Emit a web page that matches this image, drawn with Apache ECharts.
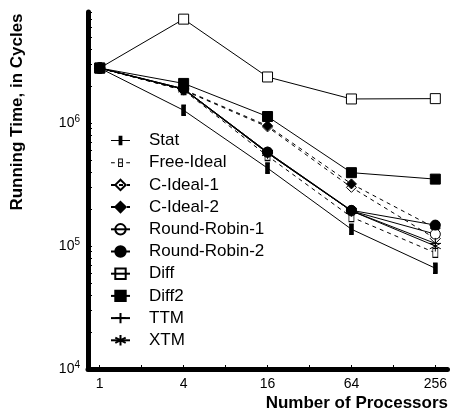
<!DOCTYPE html>
<html>
<head>
<meta charset="utf-8">
<script src="https://cdn.jsdelivr.net/npm/echarts@6/dist/echarts.min.js"></script>
<style>
  html, body { margin: 0; padding: 0; background: #fff; }
  #chart { width: 450px; height: 412px; }
</style>
</head>
<body>
<div id="chart"></div>
<script>
// Processor counts on the x axis and running times (cycles) per scheduler
const processors = [1, 4, 16, 64, 256];
const xLabelValues = [1, 4, 16, 64, 256];
const xTickValues = [1, 2, 4, 8, 16, 32, 64, 128, 256];
const yLabelValues = [1e4, 1e5, 1e6];

const stat        = [2.8e6, 1.27e6, 4.3e5, 1.37e5, 6.6e4];
const freeIdeal   = [2.8e6, 1.85e6, 5.4e5, 1.72e5, 8.8e4];
const cIdeal1     = [2.8e6, 1.85e6, 9.3e5, 3.0e5, 1.15e5];
const cIdeal2     = [2.8e6, 1.87e6, 9.5e5, 3.2e5, 1.4e5];
const roundRobin1 = [2.8e6, 1.9e6, 5.8e5, 1.93e5, 1.25e5];
const roundRobin2 = [2.8e6, 1.9e6, 5.8e5, 1.95e5, 1.48e5];
const diff        = [2.8e6, 7.0e6, 2.37e6, 1.57e6, 1.58e6];
const diff2       = [2.8e6, 2.1e6, 1.13e6, 3.95e5, 3.5e5];
const ttm         = [2.8e6, 1.88e6, 5.7e5, 1.93e5, 1.05e5];
const xtm         = [2.8e6, 1.88e6, 5.7e5, 1.93e5, 1.0e5];

const FONT = '"Liberation Sans", Arial, Helvetica, sans-serif';

// minor ticks at 1..9 x 10^n along the log y axis
const yTickValues = [];
for (let e = 4; e <= 6; e++) {
  for (let m = 1; m <= 9; m++) {
    const v = m * Math.pow(10, e);
    if (v <= 8e6) yTickValues.push(v);
  }
}

const PLUS = 'path://M5,0L5,10M0,5L10,5';
const STAR = 'path://M5,0L5,10M0.7,2.5L9.3,7.5M9.3,2.5L0.7,7.5';

// legend glyphs (20x13 box) for the bar-shaped markers: line + marker in one filled path
const BOX = 'M0,0L0,0Z M20,13L20,13Z ';
const STAT_ICON = 'path://' + BOX +
  'M0,6L20,6L20,7L0,7Z M8,1.5L12,1.5L12,11.5L8,11.5Z';
const FREE_ICON = 'path://' + BOX +
  'M0,6L4,6L4,7L0,7Z M16,6L20,6L20,7L16,7Z ' +
  'M7.5,2L12.5,2L12.5,11L7.5,11Z M8.5,3L8.5,10L11.5,10L11.5,3Z ' +
  'M8.5,6L11.5,6L11.5,7L8.5,7Z';

function pts(values) {
  return processors.map((p, i) => [p, values[i]]);
}

function makeSeries(name, values, opts) {
  return {
    name: name,
    type: 'line',
    data: pts(values),
    symbol: opts.symbol,
    symbolSize: opts.size,
    showSymbol: true,
    silent: true,
    lineStyle: { color: '#000', width: 1, type: opts.dashed ? [4, 4] : 'solid' },
    itemStyle: {
      color: opts.fill,
      borderColor: '#000',
      borderWidth: 1
    },
    emphasis: { disabled: true }
  };
}

const series = [
  makeSeries('Stat', stat, { symbol: 'rect', size: [4, 10], fill: '#000' }),
  makeSeries('Free-Ideal', freeIdeal, { symbol: 'rect', size: [5, 9], fill: '#fff', dashed: true }),
  makeSeries('C-Ideal-1', cIdeal1, { symbol: 'diamond', size: 10, fill: '#fff', dashed: true }),
  makeSeries('C-Ideal-2', cIdeal2, { symbol: 'diamond', size: 10, fill: '#000', dashed: true }),
  makeSeries('Round-Robin-1', roundRobin1, { symbol: 'circle', size: 10, fill: '#fff' }),
  makeSeries('Round-Robin-2', roundRobin2, { symbol: 'circle', size: 10, fill: '#000' }),
  makeSeries('Diff', diff, { symbol: 'rect', size: 10, fill: '#fff' }),
  makeSeries('Diff2', diff2, { symbol: 'rect', size: 10, fill: '#000' }),
  makeSeries('TTM', ttm, { symbol: PLUS, size: 11, fill: 'none' }),
  makeSeries('XTM', xtm, { symbol: STAR, size: 11, fill: 'none' })
];

const hollow = ['C-Ideal-1', 'Round-Robin-1', 'Diff'];
const customIcons = { 'Stat': STAT_ICON, 'Free-Ideal': FREE_ICON };

function legendItem(name) {
  if (customIcons[name]) {
    return { name: name, icon: customIcons[name], itemStyle: { color: '#000', borderWidth: 0 } };
  }
  if (hollow.indexOf(name) >= 0) {
    return { name: name, itemStyle: { color: 'rgba(0,0,0,0)' } };
  }
  return { name: name };
}

const chart = echarts.init(document.getElementById('chart'), null, { renderer: 'canvas' });
chart.setOption({
  animation: false,
  backgroundColor: '#fff',
  textStyle: { fontFamily: FONT, color: '#000' },
  grid: { left: 88, right: 0, top: 12, bottom: 43 },
  xAxis: {
    type: 'log',
    logBase: 2,
    min: Math.pow(2, -0.28),
    max: Math.pow(2, 8.29),
    axisLine: { show: true, lineStyle: { color: '#000', width: 5 } },
    axisTick: { show: true, inside: true, length: 4, customValues: xTickValues, lineStyle: { color: '#000', width: 1 } },
    axisLabel: {
      customValues: xLabelValues,
      formatter: v => String(Math.round(v)),
      fontSize: 14, fontFamily: FONT, color: '#000', margin: 8
    },
    splitLine: { show: false },
    minorTick: { show: false }
  },
  yAxis: {
    type: 'log',
    logBase: 10,
    min: 1e4,
    max: 8e6,
    axisLine: { show: true, lineStyle: { color: '#000', width: 5 } },
    axisTick: { show: true, inside: true, length: 4, customValues: yTickValues, lineStyle: { color: '#000', width: 1 } },
    axisLabel: {
      customValues: yLabelValues,
      formatter: v => '10{sup|' + Math.round(Math.log10(v)) + '}',
      fontSize: 14, fontFamily: FONT, color: '#000', margin: 8,
      rich: { sup: { fontSize: 10, fontFamily: FONT, color: '#000', padding: [0, 0, 8, 0] } }
    },
    splitLine: { show: false }
  },
  legend: {
    orient: 'vertical',
    left: 110,
    top: 132,
    padding: 0,
    itemWidth: 19,
    itemHeight: 13,
    itemGap: 5.2,
    selectedMode: false,
    textStyle: { fontSize: 17, fontFamily: FONT, color: '#000', lineHeight: 17, padding: [0, 0, 0, 14] },
    data: series.map(s => legendItem(s.name))
  },
  graphic: [
    {
      type: 'text', x: 17, y: 112, rotation: Math.PI / 2,
      style: { text: 'Running Time, in Cycles', font: 'bold 17px ' + FONT, fill: '#000', align: 'center', verticalAlign: 'middle' }
    },
    {
      type: 'text', x: 448, y: 403,
      style: { text: 'Number of Processors', font: 'bold 17px ' + FONT, fill: '#000', align: 'right', verticalAlign: 'middle' }
    }
  ],
  series: series
});
</script>
</body>
</html>
